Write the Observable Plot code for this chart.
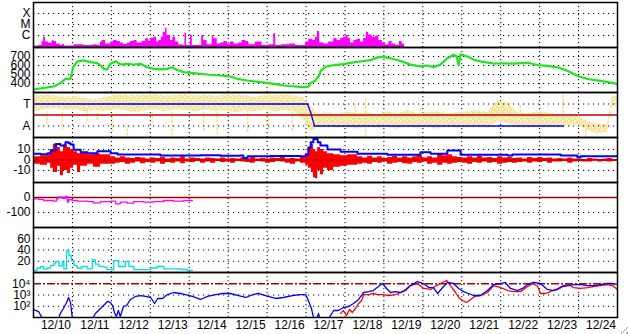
<!DOCTYPE html>
<html><head><meta charset="utf-8">
<script src="https://cdn.jsdelivr.net/npm/d3@7"></script>
<script src="https://cdn.jsdelivr.net/npm/@observablehq/plot@0.6"></script>
<style>
html,body{margin:0;padding:0;background:#fff;}
#chart{position:relative;width:628px;height:334px;overflow:hidden;background:#fff;}
#chart svg{position:absolute;left:0;}
#grip{position:absolute;right:0;bottom:0;width:11px;height:11px;
 background:repeating-linear-gradient(135deg,#fff 0 2px,#9a9a9a 2px 3px,#fff 3px 4px);
 clip-path:polygon(100% 0,100% 100%,0 100%);}
</style></head><body>
<svg width="0" height="0" style="position:absolute"><defs>
<pattern id="speckle" width="6" height="6" patternUnits="userSpaceOnUse">
<rect width="6" height="6" fill="#fbf3cc"/>
<rect x="0" y="0" width="2" height="2" fill="#f4e08e"/>
<rect x="3" y="0" width="1" height="3" fill="#f4e08e"/>
<rect x="5" y="1" width="1" height="2" fill="#f4e08e"/>
<rect x="1" y="3" width="2" height="1" fill="#f4e08e"/>
<rect x="4" y="3" width="2" height="2" fill="#f4e08e"/>
<rect x="0" y="4" width="1" height="2" fill="#f4e08e"/>
<rect x="2" y="5" width="2" height="1" fill="#f4e08e"/>
</pattern></defs></svg>
<div id="chart"><div id="grip"></div></div>
<script>
// ---------- labels / ticks ----------
const dateLabels = ["12/10","12/11","12/12","12/13","12/14","12/15","12/16","12/17","12/18","12/19","12/20","12/21","12/22","12/23","12/24"];
const dayLines = [1,2,3,4,5,6,7,8,9,10,11,12,13,14];
const xrayTicks = [1e-6, 1e-5, 1e-4];
const xrayTickLabels = ["C", "M", "X"];
const speedTicks = [400, 500, 600, 700];
const sectorTicks = [1, -1];
const sectorTickLabels = ["T", "A"];
const bTicks = [10, 0, -10];
const dstTicks = [0, -100];
const kpTicks = [20, 40, 60];
const eTicks = [1e2, 1e3, 1e4];
const eTickLabels = ["10²", "10³", "10⁴"];

// ---------- series: [day since 12/10 00:00, value] ----------
const xray = [[0,1.1e-7],[0.13,1.2e-7],[0.22,2.8e-7],[0.26,7e-7],[0.31,2.5e-7],[0.39,2e-7],[0.48,3.5e-7],[0.52,2.8e-7],[0.59,1.7e-7],[0.69,1.2e-7],[0.74,1.5e-7],[0.80,1.1e-7],[1.04,1.4e-7],[1.29,1.2e-7],[1.55,1.4e-7],[1.64,1.2e-7],[1.72,2.5e-7],[1.76,3.5e-7],[1.85,1.7e-7],[1.98,2.5e-7],[2.06,3.5e-7],[2.15,2.8e-7],[2.23,2.1e-7],[2.31,1.5e-7],[2.41,2.1e-7],[2.49,2.8e-7],[2.58,3.5e-7],[2.66,2.1e-7],[2.79,2.8e-7],[2.88,4.9e-7],[2.96,2.8e-7],[3.01,5.7e-7],[3.09,7e-7],[3.16,2.5e-7],[3.22,3.5e-7],[3.28,7e-7],[3.33,2e-6],[3.39,4.6e-6],[3.43,1e-6],[3.52,3.5e-7],[3.58,7e-7],[3.65,2.5e-7],[3.73,1.4e-7],[3.84,1.2e-7],[3.89,1.7e-6],[3.93,1.2e-7],[4.03,1e-6],[4.08,1.2e-7],[4.24,1.2e-7],[4.32,1e-6],[4.37,3.5e-7],[4.46,1.4e-7],[4.59,8.7e-7],[4.63,4.9e-7],[4.72,1.7e-7],[4.80,2.1e-7],[4.89,2.8e-7],[4.98,1.7e-7],[5.06,2.5e-7],[5.15,1.7e-7],[5.27,2.1e-7],[5.36,3.5e-7],[5.45,2.8e-7],[5.53,1.4e-7],[5.70,2.5e-7],[5.87,1.2e-7],[6.04,1.4e-7],[6.17,1.4e-6],[6.22,1.2e-7],[6.37,1.4e-7],[6.58,1.7e-7],[6.73,1.2e-7],[6.86,1.2e-7],[6.99,2.5e-7],[7.07,4.4e-7],[7.17,3.5e-7],[7.24,7e-7],[7.29,2.3e-6],[7.35,2.1e-7],[7.46,1.7e-7],[7.58,2.5e-7],[7.71,4.9e-7],[7.80,3.5e-7],[7.89,5.7e-7],[7.97,7e-7],[8.02,1e-6],[8.08,5.7e-7],[8.14,2.1e-7],[8.23,3.5e-7],[8.31,4.4e-7],[8.40,2.5e-7],[8.48,5.7e-7],[8.55,2e-6],[8.61,1.1e-6],[8.70,7e-7],[8.79,8.7e-7],[8.87,3.5e-7],[8.96,2.1e-7],[9.04,1.4e-7],[9.13,2.8e-7],[9.21,1.7e-7],[9.30,1.2e-7],[9.40,2.8e-7],[9.47,1.7e-7],[9.53,1.1e-7]];

const speed = [[0.01,333],[0.27,352],[0.52,367],[0.69,404],[0.82,452],[0.95,452],[1.02,581],[1.12,644],[1.29,656],[1.46,637],[1.64,626],[1.72,600],[1.81,563],[1.89,556],[1.98,619],[2.11,648],[2.23,611],[2.41,619],[2.58,611],[2.75,619],[2.92,581],[3.09,563],[3.26,556],[3.43,563],[3.56,581],[3.69,550],[3.86,526],[4.12,515],[4.46,500],[4.80,489],[5.06,478],[5.23,452],[5.49,433],[5.83,415],[6.17,396],[6.43,378],[6.69,367],[6.94,359],[7.06,365],[7.12,405],[7.24,433],[7.35,500],[7.37,540],[7.50,585],[7.71,605],[7.96,615],[8.22,635],[8.48,650],[8.66,660],[8.84,690],[8.99,695],[9.17,680],[9.43,650],[9.68,610],[9.94,590],[10.12,600],[10.27,580],[10.45,610],[10.63,680],[10.79,720],[10.87,700],[10.92,600],[10.97,725],[11.15,700],[11.30,665],[11.48,645],[11.82,620],[12.00,625],[12.33,620],[12.69,630],[12.95,605],[13.20,595],[13.46,580],[13.72,540],[13.97,485],[14.23,450],[14.57,430],[14.82,410],[15.00,395]];

// IMF sector: +1 = T (toward), -1 = A (away); [day, low, high] of the scattered angle
const sectorBand = [[0,0.3,1.75],[0.31,0.5,1.8],[0.57,0.6,1.75],[0.82,0.4,1.6],[1.08,0.5,1.7],[1.34,0.3,1.5],[1.59,0.4,1.4],[1.85,0.3,1.6],[2.11,0.5,1.85],[2.36,0.4,1.8],[2.62,0.2,1.75],[2.88,0.4,1.8],[3.13,0.5,1.85],[3.39,0.3,1.7],[3.65,0.5,1.8],[3.90,0.4,1.85],[4.16,0.3,1.75],[4.42,0.5,1.8],[4.68,0.3,1.7],[4.93,0.4,1.85],[5.19,0.2,1.8],[5.45,0.4,1.75],[5.70,0.3,1.6],[5.96,0.5,1.8],[6.22,0.3,1.75],[6.47,0.4,1.85],[6.73,0.3,1.7],[6.94,-0.5,1.6],[7.12,-1.5,0.8],[7.30,-1.2,0.1],[7.55,-1.0,0.2],[7.81,-1.2,0.0],[8.07,-1.1,0.3],[8.32,-1.3,0.1],[8.58,-1.0,0.2],[8.84,-1.2,0.0],[9.09,-1.1,0.3],[9.35,-1.3,0.1],[9.61,-1.0,0.4],[9.86,-1.2,0.1],[10.12,-1.1,0.2],[10.38,-1.3,0.3],[10.63,-1.0,0.1],[10.89,-1.2,0.2],[11.15,-1.1,0.3],[11.40,-1.0,0.4],[11.66,-1.2,0.2],[11.92,-0.6,1.3],[12.18,-0.8,1.1],[12.43,-1.1,0.2],[12.69,-1.2,0.1],[12.95,-1.0,0.3],[13.20,-1.1,0.2],[13.46,-0.9,0.0],[13.72,-1.0,-0.1],[13.97,-0.9,0.0],[14.23,-1.4,-0.6],[14.49,-1.7,-0.8],[14.74,-1.6,-0.9],[14.87,0.8,1.7],[15.0,0.8,1.7]];
const sectorStreaks = [[0.35,-0.9,0.3],[0.74,-1.4,0.3],[1.38,-0.6,0.3],[1.64,-0.5,0.2],[2.02,-1.6,0.2],[2.41,-1.9,-1.0],[3.05,-0.8,0.3],[3.56,-1.9,0.2],[4.37,-1.5,0.2],[4.72,-1.8,0.2],[5.50,-1.6,0.3],[6.04,-1.3,0.3],[6.65,-1.5,0.2],[8.27,0.1,1.0],[8.53,-2.0,1.6],[9.94,0.3,0.8],[12.50,0.2,0.9],[13.60,0.1,1.8],[14.18,-2.0,-1.0]];
const sectorModel = [[0,1],[7.04,1],[7.12,0.2],[7.22,-1],[13.61,-1]];

// IMF: Bt line and Bz [day, min, max]
const bt = [[0,5.9],[0.18,5.5],[0.36,6.5],[0.44,9],[0.57,15.4],[0.69,13.8],[0.82,17],[0.90,16],[0.95,14.8],[1.03,9.7],[1.21,7.4],[1.39,6.5],[1.54,6.5],[1.64,8.4],[1.90,8.4],[1.98,6.5],[2.16,5.2],[3.01,5.2],[3.26,4.3],[4.29,4.5],[4.80,4.0],[5.32,4.3],[5.39,2],[5.50,3.6],[6.09,3.8],[6.86,3.6],[6.99,5],[7.06,12],[7.12,17],[7.19,20],[7.30,17],[7.37,13.8],[7.55,10],[7.81,10],[7.89,8],[8.22,8],[8.32,5.9],[8.99,5.9],[9.09,5],[9.86,5],[9.94,7.4],[10.12,7.4],[10.20,5.9],[10.53,5.9],[10.63,9],[10.89,9],[10.97,5],[11.74,5],[12.18,4.3],[12.30,5.2],[13.02,5.2],[13.54,4.3],[13.97,2.7],[14.05,3.6],[15,3.6]];
const bz = [[0,-4,3],[0.18,-5,4],[0.36,-3,5],[0.44,-8,10],[0.51,-12,15],[0.62,-6,12],[0.69,-15,8],[0.77,-10,14],[0.87,-13,12],[0.95,-8,10],[1.03,-5,8],[1.13,-12,6],[1.21,-6,7],[1.39,-4,5],[1.54,-7,6],[1.72,-4,5],
[1.98,-4,3],[2.11,-3,2],[2.23,-2.5,3],[2.36,-4,2],[2.49,-3,1.5],[2.62,-2,2.5],[2.75,-3.5,2],[2.88,-2.5,1],[3.01,-3,2],[3.14,-2,1.5],[3.26,-4,2.5],[3.39,-2.5,1],[3.52,-3,2],[3.65,-2,1.5],[3.78,-3.5,3],[3.90,-2,1],[4.03,-2.5,2],[4.16,-1.5,1.5],[4.29,-3,1],[4.42,-2,2],[4.55,-3,1.5],[4.68,-1.5,1],[4.80,-2.5,2],[4.93,-2,1],[5.06,-3,1.5],[5.19,-1.5,1],[5.32,-2,2],[5.45,-2.5,1],[5.57,-3,2.5],[5.70,-1.5,1],[5.83,-2,1.5],[5.96,-3,1],[6.09,-2.5,2],[6.22,-1.5,1.5],[6.34,-2,2.5],[6.47,-3,1],[6.60,-4,1.5],[6.73,-2,1],[6.86,-3,3],
[6.99,-5,6],[7.06,-8,12],[7.14,-12,15],[7.19,-17,10],[7.24,-18,8],[7.30,-10,12],[7.37,-14,10],[7.45,-8,8],[7.55,-10,6],[7.71,-7,5],[7.89,-6,4],[8.07,-5,5],
[8.32,-4,3],[8.45,-3,2],[8.58,-4,3.5],[8.71,-2.5,2],[8.84,-3,3],[8.96,-2,1.5],[9.09,-4,2.5],[9.22,-3,3.5],[9.35,-2.5,2],[9.48,-3.5,3],[9.61,-4,2],[9.74,-2.5,3],[9.86,-3,4],[9.99,-2,2],[10.12,-4,3],[10.25,-3,2],[10.38,-5,6],[10.51,-3,4],[10.63,-4,5],[10.76,-3,3],[10.89,-2.5,2.5],[11.02,-3,2],[11.15,-4,3],[11.28,-2.5,2],[11.40,-3,3.5],[11.53,-2,2],[11.66,-3,2.5],[11.79,-2.5,1.5],[11.92,-4,3],[12.05,-3,2],[12.18,-2.5,2.5],[12.30,-3,1.5],[12.43,-2.5,2],[12.56,-2,1],[12.69,-3,2.5],[12.82,-2,1.5],[12.95,-2.5,2.5],[13.08,-1.5,1.5],[13.20,-3,2],[13.33,-2,1],[13.46,-2,1.5],[13.59,-1.5,1],[13.72,-3,2],[13.85,-2,1],[13.97,-1.5,1],[14.10,-2,0.5],[14.23,-2,1.5],[14.36,-1,1],[14.49,-2,0.5],[14.62,-1.5,1],[14.74,-2,1.5],[14.87,-1.5,0.5],[15.0,-1.5,0.5]];

const dst = [[0,-9],[0.13,-13],[0.26,-20],[0.44,-20],[0.51,-24],[0.59,-9],[0.64,2],[0.74,-5],[0.82,7],[0.87,-31],[0.90,-15],[1.00,-20],[1.13,-24],[1.39,-27],[1.54,-36],[1.72,-27],[1.98,-24],[2.11,-42],[2.23,-31],[2.41,-38],[2.57,-27],[2.83,-31],[3.08,-27],[3.34,-20],[3.60,-24],[3.85,-20],[4.08,-20]];
const cyanSeries = [[0,3.6],[0.09,8],[0.18,10.7],[0.26,5.9],[0.35,8],[0.44,12.4],[0.52,15.4],[0.57,19.6],[0.65,12],[0.74,18.4],[0.78,6.5],[0.85,39],[0.91,30],[0.97,21],[1.04,12.4],[1.12,8],[1.25,10.7],[1.38,6.5],[1.51,22.5],[1.59,15],[1.68,11],[1.81,9.5],[1.89,5],[2.06,21],[2.19,10.7],[2.36,19.6],[2.45,10.7],[2.58,5],[2.83,5],[3.01,8],[3.18,10.7],[3.35,6.5],[3.52,6.5],[3.78,5.3],[3.95,3.6],[4.08,3.6]];

const electronBlue = [[0,51],[0.13,34],[0.23,8],[0.39,5],[0.64,8],[0.69,23],[0.77,63],[0.85,215],[0.90,600],[0.95,215],[1.00,8],[1.03,3],[1.52,8],[1.59,23],[1.72,63],[1.85,175],[1.90,265],[1.98,215],[2.03,116],[2.08,28],[2.13,12],[2.18,42],[2.23,12],[2.31,95],[2.39,116],[2.49,400],[2.62,740],[2.75,900],[2.88,740],[3.01,600],[3.11,175],[3.19,490],[3.31,490],[3.44,1100],[3.60,1670],[3.78,1360],[3.90,1100],[4.08,740],[4.29,400],[4.47,740],[4.68,1100],[4.85,1360],[5.06,1360],[5.27,900],[5.45,600],[5.63,1100],[5.78,1360],[5.96,900],[6.22,490],[6.42,600],[6.65,900],[6.86,1100],[6.99,1100],[7.06,325],[7.14,63],[7.19,10],[7.24,3],[7.32,23],[7.37,5],[7.58,8],[7.71,42],[7.83,42],[7.96,77],[8.09,95],[8.22,175],[8.35,400],[8.48,1670],[8.61,2000],[8.73,2500],[8.86,5700],[8.96,10500],[9.07,3800],[9.17,1670],[9.30,2000],[9.43,1670],[9.56,3100],[9.68,6900],[9.86,15800],[10.02,10500],[10.15,4600],[10.27,4600],[10.38,1360],[10.51,4600],[10.63,13000],[10.79,10500],[10.92,3800],[11.05,2000],[11.17,1360],[11.30,900],[11.48,900],[11.66,2500],[11.82,8500],[12.00,10500],[12.12,13000],[12.25,3800],[12.43,2500],[12.56,3800],[12.69,8500],[12.84,13000],[13.02,10500],[13.20,3100],[13.36,2500],[13.46,3100],[13.59,5700],[13.72,6900],[13.87,8500],[14.05,8500],[14.23,6900],[14.38,6900],[14.56,8500],[14.74,10500],[14.87,10500],[15.0,8500]];
const electronRed = [[7.89,23],[7.96,42],[8.04,15],[8.12,51],[8.19,28],[8.27,63],[8.35,175],[8.43,325],[8.48,1100],[8.61,1100],[8.73,1360],[8.84,1100],[8.96,1100],[9.12,900],[9.30,1100],[9.43,1670],[9.56,2500],[9.68,6900],[9.86,10500],[10.02,3800],[10.20,3100],[10.35,6900],[10.45,10500],[10.61,19400],[10.71,6900],[10.84,1670],[10.92,600],[11.02,325],[11.12,215],[11.23,400],[11.33,740],[11.48,900],[11.66,1670],[11.82,6900],[12.00,4600],[12.18,2500],[12.33,2000],[12.51,2000],[12.69,5700],[12.84,10500],[12.95,5700],[13.02,1360],[13.15,1360],[13.28,2000],[13.46,3800],[13.61,6900],[13.72,8500],[13.87,4600],[14.05,3800],[14.23,4600],[14.38,5700],[14.56,6900],[14.74,8500],[14.87,6900],[15.0,3100]];
const eThreshold = [1e4];

// ---------- layout helpers ----------
const chart = document.getElementById("chart");
const FONT = "'Liberation Sans', Arial, Helvetica, sans-serif";
const X = d => d[0], Y = d => d[1];
const dots = "1.2,3.8";
const vgrid = () => Plot.ruleX(dayLines, {stroke: "black", strokeDasharray: "1.2,2.8", strokeWidth: 1});
const hgrid = v => Plot.ruleY(v, {stroke: "black", strokeDasharray: dots, strokeWidth: 1});
const yAxis = (ticks, labels) => Plot.axisY(ticks, {anchor: "left", tickSize: 0, tickPadding: 3, fontSize: 12, fill: "black",
  tickFormat: labels ? (d => labels[ticks.indexOf(d)]) : (d => String(d)), label: null});

function panel(index, y, marks, last) {
  const svg = Plot.plot({
    width: 628, height: last ? 64 : 47,
    marginLeft: 33, marginRight: 11, marginTop: 1, marginBottom: last ? 18 : 1,
    style: {fontFamily: FONT, fontSize: "12px", background: "transparent", color: "black", overflow: "visible"},
    x: {domain: [0, 15], label: null, ...(last ? {} : {axis: null})},
    y: {label: null, ...y},
    marks: [vgrid(), ...marks, Plot.frame({stroke: "black", strokeWidth: 1.5})]
  });
  svg.style.top = (1 + 45 * index) + "px";
  chart.appendChild(svg);
}

// 1. X-ray flux
panel(0, {type: "log", domain: [8e-8, 1e-3]}, [
  hgrid(xrayTicks),
  Plot.areaY(xray, {x: X, y1: 8e-8, y2: Y, curve: "step-after", fill: "#ff00ff", clip: true}),
  yAxis(xrayTicks, xrayTickLabels)
]);

// 2. Solar wind speed
panel(1, {domain: [300, 800]}, [
  hgrid(speedTicks),
  Plot.line(speed, {x: X, y: Y, stroke: "#1ee61e", strokeWidth: 2.2, clip: true}),
  yAxis(speedTicks)
]);

// 3. IMF sector (T / A)
panel(2, {domain: [-2.05, 2.05]}, [
  Plot.areaY(sectorBand, {x: X, y1: d => d[1], y2: d => d[2], curve: "linear", fill: "url(#speckle)", clip: true}),
  Plot.ruleX(sectorStreaks, {x: X, y1: d => d[1], y2: d => d[2], stroke: "#f4e08e", strokeWidth: 1.5, strokeDasharray: "3,1", clip: true}),
  hgrid(sectorTicks),
  Plot.ruleY([0], {stroke: "#c00000", strokeWidth: 1.3}),
  Plot.line(sectorModel, {x: X, y: Y, stroke: "#0000ff", strokeWidth: 1.3}),
  yAxis(sectorTicks, sectorTickLabels)
]);

// 4. IMF Bt / Bz
panel(3, {domain: [-21.5, 21.5]}, [
  hgrid(bTicks),
  Plot.areaY(bz, {x: X, y1: d => d[1], y2: d => d[2], curve: "step-after", fill: "#ff0000", clip: true}),
  Plot.ruleY([0], {stroke: "#b00000", strokeWidth: 1}),
  Plot.line(bt, {x: X, y: Y, curve: "step-after", stroke: "#0000ff", strokeWidth: 2, clip: true}),
  yAxis(bTicks)
]);

// 5. Dst
panel(4, {domain: [-200, 100]}, [
  hgrid([-100]),
  Plot.ruleY([0], {stroke: "#a00000", strokeWidth: 1.3}),
  Plot.line(dst, {x: X, y: Y, curve: "step-after", stroke: "#ff00ff", strokeWidth: 1.3, clip: true}),
  yAxis(dstTicks)
]);

// 6. Cyan index
panel(5, {domain: [0, 80]}, [
  hgrid(kpTicks),
  Plot.line(cyanSeries, {x: X, y: Y, curve: "step-after", stroke: "#00e0e0", strokeWidth: 1.3, clip: true}),
  yAxis(kpTicks)
]);

// 7. Electron flux
panel(6, {type: "log", domain: [10, 1e5]}, [
  hgrid([1e2, 1e3]),
  Plot.ruleY(eThreshold, {stroke: "#b00000", strokeWidth: 1.3, strokeDasharray: "8,2,2,2"}),
  Plot.line(electronRed, {x: X, y: Y, stroke: "#ff0000", strokeWidth: 1.3, clip: true}),
  Plot.line(electronBlue, {x: X, y: Y, stroke: "#0000ff", strokeWidth: 1.3, clip: true}),
  yAxis(eTicks, eTickLabels),
  Plot.axisX(dateLabels.map((_, i) => i + 0.5), {anchor: "bottom", tickSize: 0, tickPadding: 3, fontSize: 12, dx: 3, fill: "black",
    tickFormat: d => dateLabels[Math.floor(d)], label: null})
], true);
</script></body></html>
